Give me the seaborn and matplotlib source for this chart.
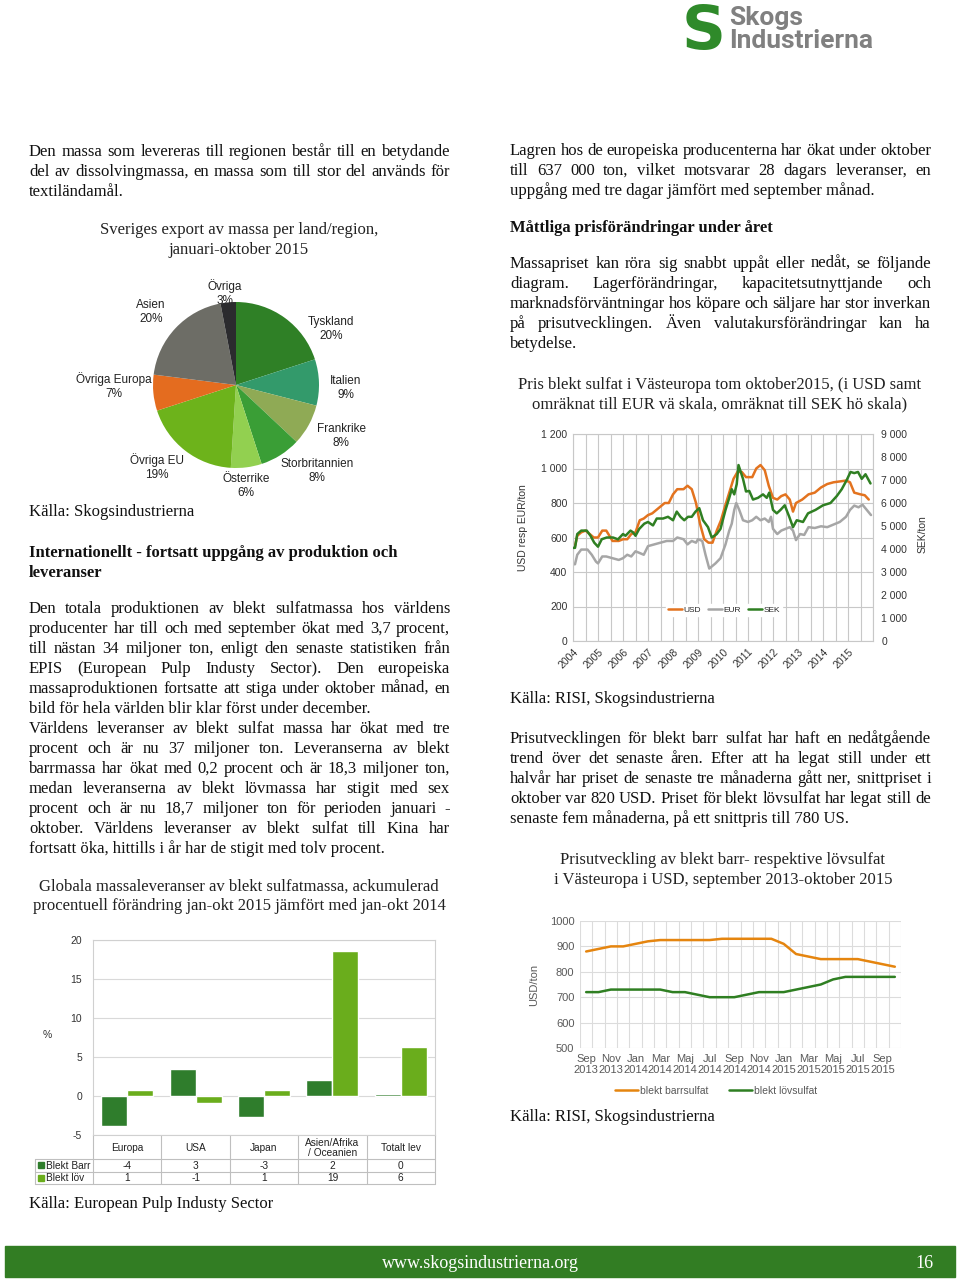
import numpy as np
import pandas as pd
import matplotlib
matplotlib.use('Agg')
import matplotlib.pyplot as plt
import seaborn as sns
from matplotlib.patches import Rectangle
from matplotlib.lines import Line2D
from matplotlib.ticker import MultipleLocator, FuncFormatter

# ---------------- data ----------------
pie_labels = ['Tyskland', 'Italien', 'Frankrike', 'Storbritannien', 'Österrike',
              'Övriga EU', 'Övriga Europa', 'Asien', 'Övriga']
pie_values = [20, 9, 8, 8, 6, 19, 7, 20, 3]

usd_year = [2004.00, 2004.08, 2004.17, 2004.33, 2004.50, 2004.67, 2004.83, 2005.00, 2005.17, 2005.33,
            2005.50, 2005.58, 2005.83, 2006.00, 2006.17, 2006.33, 2006.50, 2006.67, 2006.83, 2007.00,
            2007.17, 2007.42, 2007.67, 2007.83, 2008.00, 2008.17, 2008.42, 2008.58, 2008.75, 2008.92,
            2009.08, 2009.25, 2009.42, 2009.58, 2009.75, 2009.92, 2010.08, 2010.25, 2010.42, 2010.58,
            2010.75, 2010.92, 2011.17, 2011.33, 2011.50, 2011.67, 2011.83, 2012.00, 2012.17, 2012.33,
            2012.50, 2012.67, 2012.80, 2012.92, 2013.17, 2013.42, 2013.67, 2013.92, 2014.17, 2014.42,
            2014.67, 2014.92, 2015.08, 2015.25, 2015.50, 2015.67, 2015.83]
usd_val = [560, 550, 610, 630, 640, 620, 600, 600, 640, 640,
           600, 580, 580, 590, 590, 620, 630, 700, 710, 730,
           740, 770, 800, 800, 850, 880, 880, 900, 880, 800,
           680, 590, 570, 570, 640, 700, 780, 860, 940, 980,
           980, 950, 950, 1000, 1020, 990, 900, 830, 820, 840,
           850, 820, 750, 800, 820, 850, 860, 890, 910, 920,
           925, 930, 920, 860, 850, 845, 820]

eur_year = [2004.00, 2004.08, 2004.17, 2004.33, 2004.58, 2004.75, 2004.92, 2005.00, 2005.17, 2005.33,
            2005.58, 2005.83, 2006.00, 2006.17, 2006.33, 2006.50, 2006.67, 2006.83, 2007.00, 2007.25,
            2007.50, 2007.75, 2008.00, 2008.17, 2008.42, 2008.58, 2008.75, 2008.92, 2009.00, 2009.17,
            2009.30, 2009.45, 2009.70, 2009.90, 2010.10, 2010.25, 2010.35, 2010.45, 2010.53, 2010.65,
            2010.80, 2011.00, 2011.17, 2011.33, 2011.50, 2011.67, 2011.83, 2011.92, 2012.00, 2012.17,
            2012.33, 2012.50, 2012.67, 2012.80, 2012.92, 2013.08, 2013.25, 2013.42, 2013.67, 2013.92,
            2014.17, 2014.42, 2014.67, 2014.92, 2015.08, 2015.25, 2015.42, 2015.58, 2015.75, 2015.92]
eur_val = [445, 445, 500, 530, 530, 500, 460, 450, 490, 490,
           480, 470, 480, 500, 490, 520, 510, 500, 550, 560,
           570, 580, 580, 600, 590, 560, 580, 570, 590, 580,
           500, 420, 450, 480, 560, 640, 680, 760, 800, 760,
           700, 690, 700, 720, 700, 710, 690, 720, 650, 620,
           640, 650, 660, 640, 585, 620, 615, 660, 655, 665,
           660, 675, 690, 720, 760, 785, 775, 790, 760, 730]

sek_year = [2004.00, 2004.08, 2004.17, 2004.33, 2004.55, 2004.70, 2004.85, 2005.00, 2005.15, 2005.35,
            2005.60, 2005.80, 2006.00, 2006.10, 2006.30, 2006.40, 2006.50, 2006.65, 2006.85, 2007.00,
            2007.20, 2007.35, 2007.60, 2007.80, 2008.00, 2008.15, 2008.30, 2008.45, 2008.60, 2008.75,
            2008.90, 2009.05, 2009.20, 2009.40, 2009.55, 2009.75, 2009.90, 2010.10, 2010.25, 2010.35,
            2010.45, 2010.55, 2010.62, 2010.80, 2010.92, 2011.05, 2011.20, 2011.40, 2011.60, 2011.75,
            2011.85, 2012.00, 2012.15, 2012.30, 2012.47, 2012.65, 2012.80, 2012.95, 2013.20, 2013.40,
            2013.70, 2014.00, 2014.30, 2014.55, 2014.75, 2014.95, 2015.10, 2015.25, 2015.40, 2015.55,
            2015.70, 2015.90]
sek_val = [4050, 4050, 4650, 4800, 4800, 4575, 4275, 4100, 4425, 4500,
           4500, 4420, 4650, 4575, 4800, 4725, 4575, 4875, 5100, 5175,
           5025, 5325, 5325, 5400, 5250, 5625, 5400, 5250, 5400, 5400,
           5625, 5775, 5250, 4950, 4500, 4650, 4875, 5700, 6225, 6600,
           6375, 6825, 7650, 7050, 6500, 6525, 6150, 6225, 6375, 6225,
           6450, 5700, 5550, 5700, 5900, 5400, 4950, 5250, 5175, 5550,
           5700, 5900, 6000, 6300, 6600, 7000, 7350, 7300, 7350, 7050,
           7250, 6850]

bar_regions = ['Europa', 'USA', 'Japan', 'Asien/Afrika\n/ Oceanien', 'Totalt lev']
bar_series = ['Blekt Barr', 'Blekt löv']
barr_change = [-3.9, 3.4, -2.7, 2.0, 0.2]
lov_change = [0.8, -0.9, 0.8, 18.6, 6.3]

months = ['Sep\n2013', 'Okt\n2013', 'Nov\n2013', 'Dec\n2013', 'Jan\n2014', 'Feb\n2014', 'Mar\n2014',
          'Apr\n2014', 'Maj\n2014', 'Jun\n2014', 'Jul\n2014', 'Aug\n2014', 'Sep\n2014', 'Okt\n2014',
          'Nov\n2014', 'Dec\n2014', 'Jan\n2015', 'Feb\n2015', 'Mar\n2015', 'Apr\n2015', 'Maj\n2015',
          'Jun\n2015', 'Jul\n2015', 'Aug\n2015', 'Sep\n2015', 'Okt\n2015']
barr_price = [880, 890, 900, 900, 910, 920, 925, 925, 925, 925, 925, 930, 930, 930,
              930, 930, 910, 870, 860, 850, 850, 850, 850, 840, 830, 820]
lov_price = [720, 720, 730, 730, 730, 730, 730, 720, 720, 710, 700, 700, 700, 710,
             720, 720, 720, 730, 740, 750, 770, 780, 780, 780, 780, 780]

# ---------------- style ----------------
W, H = 960, 1282
sns.set_theme(style='white')
plt.rcParams['font.family'] = ['Liberation Sans', 'DejaVu Sans']
plt.rcParams['axes.unicode_minus'] = False
SERIF = ['Liberation Serif', 'DejaVu Serif']
SANS = ['Liberation Sans', 'DejaVu Sans']
BODY = 12
TXT = '#111111'
GRID = '#c8c8c8'

fig = plt.figure(figsize=(9.6, 12.82), dpi=100)
fig.patch.set_facecolor('white')
page = fig.add_axes([0, 0, 1, 1], zorder=0)
page.set_xlim(0, W)
page.set_ylim(H, 0)
page.axis('off')
renderer = fig.canvas.get_renderer()


def rect(x0, y0, x1, y1):
    return [x0 / W, 1 - y1 / H, (x1 - x0) / W, (y1 - y0) / H]


def width_of(s, **kw):
    t = page.text(0, 0, s, **kw)
    w = t.get_window_extent(renderer).width
    t.remove()
    return w


def para(lines, x0, x1, y0, step=20.0, size=BODY, weight='normal'):
    kw = dict(fontsize=size, family=SERIF, weight=weight, va='baseline', ha='left', color=TXT)
    for i, (txt, just) in enumerate(lines):
        y = y0 + i * step
        if not just:
            page.text(x0, y, txt, **kw)
            continue
        words = txt.split()
        ws = [width_of(w, **kw) for w in words]
        gap = (x1 - x0 - sum(ws)) / (len(words) - 1)
        x = x0
        for w, wd in zip(words, ws):
            page.text(x, y, w, **kw)
            x += wd + gap


def centered(lines, xc, y0, step=19.5, size=BODY):
    for i, t in enumerate(lines):
        page.text(xc, y0 + i * step, t, fontsize=size, family=SERIF, ha='center',
                  va='baseline', color='#222222')


LX0, LX1 = 29, 450
RX0, RX1 = 510, 931

# ---------------- logo ----------------
page.text(704, 49, 'S', fontsize=44, weight='bold', color='#2f8a2a', ha='center', va='baseline',
          family=['DejaVu Sans'])
page.text(729, 25, 'Skogs', fontsize=19, weight='bold', color='#808080', ha='left', va='baseline',
          family=['Roboto', 'DejaVu Sans'])
page.text(729, 48, 'Industrierna', fontsize=19, weight='bold', color='#808080', ha='left',
          va='baseline', family=['Roboto', 'DejaVu Sans'])

# ---------------- text blocks ----------------
para([("Den massa som levereras till regionen består till en betydande", True),
      ("del av dissolvingmassa, en massa som till stor del används för", True),
      ("textiländamål.", False)], LX0, LX1, 156)

para([("Lagren hos de europeiska producenterna har ökat under oktober", True),
      ("till 637 000 ton, vilket motsvarar 28 dagars leveranser, en", True),
      ("uppgång med tre dagar jämfört med september månad.", False)], RX0, RX1, 155)

para([("Måttliga prisförändringar under året", False)], RX0, RX1, 232, weight='bold')

para([("Massapriset kan röra sig snabbt uppåt eller nedåt, se följande", True),
      ("diagram. Lagerförändringar, kapacitetsutnyttjande och", True),
      ("marknadsförväntningar hos köpare och säljare har stor inverkan", True),
      ("på prisutvecklingen. Även valutakursförändringar kan ha", True),
      ("betydelse.", False)], RX0, RX1, 268)

centered(["Sveriges export av massa per land/region,", "januari-oktober 2015"], 239, 234)
para([("Källa: Skogsindustrierna", False)], LX0, LX1, 516)

para([("Internationellt - fortsatt uppgång av produktion och", False),
      ("leveranser", False)], LX0, LX1, 557, weight='bold')

para([("Den totala produktionen av blekt sulfatmassa hos världens", True),
      ("producenter har till och med september ökat med 3,7 procent,", True),
      ("till nästan 34 miljoner ton, enligt den senaste statistiken från", True),
      ("EPIS (European Pulp Industy Sector). Den europeiska", True),
      ("massaproduktionen fortsatte att stiga under oktober månad, en", True),
      ("bild för hela världen blir klar först under december.", False),
      ("Världens leveranser av blekt sulfat massa har ökat med tre", True),
      ("procent och är nu 37 miljoner ton. Leveranserna av blekt", True),
      ("barrmassa har ökat med 0,2 procent och är 18,3 miljoner ton,", True),
      ("medan leveranserna av blekt lövmassa har stigit med sex", True),
      ("procent och är nu 18,7 miljoner ton för perioden januari -", True),
      ("oktober.  Världens leveranser av blekt sulfat till Kina har", True),
      ("fortsatt öka, hittills i år har de stigit med tolv procent.", False)], LX0, LX1, 613)

centered(["Globala massaleveranser av blekt sulfatmassa, ackumulerad",
          "procentuell förändring jan-okt 2015 jämfört med jan-okt 2014"], 239, 891)
para([("Källa: European Pulp Industy Sector", False)], LX0, LX1, 1208)

centered(["Pris blekt sulfat i Västeuropa tom oktober2015, (i USD samt",
          "omräknat till EUR vä skala, omräknat till SEK hö skala)"], 720, 389)
para([("Källa: RISI, Skogsindustrierna", False)], RX0, RX1, 703)

para([("Prisutvecklingen för blekt barr sulfat har haft en nedåtgående", True),
      ("trend över det senaste åren. Efter att ha legat still under ett", True),
      ("halvår har priset de senaste tre månaderna gått ner, snittpriset i", True),
      ("oktober var 820 USD. Priset för blekt lövsulfat har legat still de", True),
      ("senaste fem månaderna, på ett snittpris till 780 US.", False)], RX0, RX1, 743)

centered(["Prisutveckling av blekt barr- respektive lövsulfat",
          "i Västeuropa i USD, september 2013-oktober 2015"], 723, 864)
para([("Källa: RISI, Skogsindustrierna", False)], RX0, RX1, 1121)

# footer
page.add_patch(Rectangle((5, 1246), 950, 31, color='#327d23', zorder=1))
page.text(480, 1268, 'www.skogsindustrierna.org', fontsize=13, family=SERIF, color='white',
          ha='center', va='baseline', zorder=2)
page.text(934, 1268, '16', fontsize=13, family=SERIF, color='white', ha='right', va='baseline',
          zorder=2)

# ---------------- pie ----------------
pie_colors = ['#2f8026', '#339a6b', '#8faa55', '#3a9e36', '#92d050',
              '#6db31b', '#e46c1f', '#6d6d66', '#2b2b2e']
PCX, PCY, PR = 236, 385, 83
axp = fig.add_axes(rect(PCX - PR, PCY - PR, PCX + PR, PCY + PR), zorder=2)
axp.pie(pie_values, colors=pie_colors, startangle=90, counterclock=False,
        wedgeprops=dict(linewidth=0))
axp.set_xlim(-1, 1)
axp.set_ylim(-1, 1)
axp.set_aspect('equal')
axp.axis('off')
pie_label_xy = [(331, 329), (346, 388), (341, 436), (317, 471), (246, 486),
                (157, 467), (114, 386), (151, 312), (225, 293)]
for (lx, ly), name, v in zip(pie_label_xy, pie_labels, pie_values):
    page.text(lx, ly, f"{name}\n{v}%", fontsize=8.5, family=SANS, ha='center', va='center',
              color='#222222', linespacing=1.15, zorder=5)

# ---------------- price chart 2004-2015 ----------------
C_USD, C_EUR, C_SEK = '#e3731f', '#a6a6a6', '#2f7f22'
fmt = FuncFormatter(lambda v, p: f"{v:,.0f}".replace(',', ' '))
ax1 = fig.add_axes(rect(573, 434, 873, 641), zorder=2)
sns.lineplot(x=usd_year, y=usd_val, ax=ax1, color=C_USD, linewidth=1.8)
sns.lineplot(x=eur_year, y=eur_val, ax=ax1, color=C_EUR, linewidth=1.8)
ax1.set_xlim(2004, 2016)
ax1.set_ylim(0, 1200)
ax1.set_yticks(np.arange(0, 1201, 200))
ax1.yaxis.set_major_formatter(fmt)
ax1.set_xticks(np.arange(2004, 2016))
ax1.set_xticklabels([str(y) for y in range(2004, 2016)], rotation=45, ha='right',
                    rotation_mode='anchor')
ax1.xaxis.set_minor_locator(MultipleLocator(0.5))
ax1.grid(True, which='both', axis='x', color=GRID, lw=0.8)
ax1.grid(True, which='major', axis='y', color=GRID, lw=0.8)
ax1.tick_params(axis='both', which='both', length=0, labelsize=7.5, colors='#333333', pad=4)
ax1.set_xlabel('')
ax1.set_ylabel('')
for s in ax1.spines.values():
    s.set_color(GRID)
    s.set_linewidth(0.8)
ax2 = ax1.twinx()
sns.lineplot(x=sek_year, y=sek_val, ax=ax2, color=C_SEK, linewidth=1.8)
ax2.set_ylim(0, 9000)
ax2.set_yticks(np.arange(0, 9001, 1000))
ax2.yaxis.set_major_formatter(fmt)
ax2.tick_params(axis='y', length=0, labelsize=7.5, colors='#333333', pad=6)
ax2.set_ylabel('')
ax2.grid(False)
for s in ax2.spines.values():
    s.set_visible(False)
handles = [Line2D([], [], color=c, lw=1.8) for c in (C_USD, C_EUR, C_SEK)]
leg = ax2.legend(handles, ['USD', 'EUR', 'SEK'], loc='center',
                 bbox_to_anchor=((724 - 573) / 300, 1 - (610 - 434) / 207), ncol=3, fontsize=6,
                 frameon=True, facecolor='white', edgecolor='white', framealpha=1,
                 handlelength=1.6, handletextpad=0.2, columnspacing=0.9, borderpad=0.25)
page.text(523, 528, 'USD resp EUR/ton', fontsize=7.5, rotation=90, ha='center', va='center',
          family=SANS, color='#333333')
page.text(923, 534, 'SEK/ton', fontsize=7.5, rotation=90, ha='center', va='center',
          family=SANS, color='#333333')

# ---------------- bar chart ----------------
C_B, C_L = '#2f7d2c', '#6aad1c'
bar_df = pd.DataFrame({'region': bar_regions * 2,
                       'serie': [bar_series[0]] * len(bar_regions) + [bar_series[1]] * len(bar_regions),
                       'value': barr_change + lov_change})
axb = fig.add_axes(rect(93, 940, 435, 1135), zorder=2)
sns.barplot(data=bar_df, x='region', y='value', hue='serie', palette=[C_B, C_L],
            saturation=1, width=0.76, ax=axb, legend=False)
axb.set_xlim(-0.5, len(bar_regions) - 0.5)
axb.set_ylim(-5, 20)
axb.set_yticks(np.arange(-5, 21, 5))
axb.set_xticks([])
axb.set_xlabel('')
axb.set_ylabel('')
axb.grid(True, axis='y', color='#d9d9d9', lw=0.8)
axb.set_axisbelow(True)
axb.tick_params(axis='y', length=0, labelsize=7.5, colors='#333333', pad=8)
for s in axb.spines.values():
    s.set_color('#d0d0d0')
    s.set_linewidth(0.8)
page.text(47, 1035, '%', fontsize=7.5, family=SANS, ha='center', va='center', color='#333333')

# table under bar chart
edges = [axb.transData.transform((i - 0.5, 0))[0] for i in range(len(bar_regions) + 1)]
T0, T1, T2, T3 = 1135, 1159, 1171.5, 1184
LBL0 = 35
TL = '#bfbfbf'
for xe in edges:
    page.plot([xe, xe], [T0, T3], color=TL, lw=0.8)
page.plot([LBL0, LBL0], [T1, T3], color=TL, lw=0.8)
for yy in (T1, T2, T3):
    page.plot([LBL0, edges[-1]], [yy, yy], color=TL, lw=0.8)
for i, reg in enumerate(bar_regions):
    xc = (edges[i] + edges[i + 1]) / 2
    page.text(xc, (T0 + T1) / 2 + 1, reg, fontsize=7.3, family=SANS, ha='center', va='center',
              color='#222222', linespacing=1.05)
    page.text(xc, (T1 + T2) / 2 + 0.5, f"{barr_change[i]:.0f}", fontsize=7.3, family=SANS,
              ha='center', va='center', color='#222222')
    page.text(xc, (T2 + T3) / 2 + 0.5, f"{lov_change[i]:.0f}", fontsize=7.3, family=SANS,
              ha='center', va='center', color='#222222')
for (yy0, yy1), name, c in zip([(T1, T2), (T2, T3)], bar_series, [C_B, C_L]):
    page.add_patch(Rectangle((LBL0 + 3, (yy0 + yy1) / 2 - 3), 6, 6, color=c))
    page.text(LBL0 + 11, (yy0 + yy1) / 2 + 0.5, name, fontsize=7.3, family=SANS, ha='left',
              va='center', color='#222222', clip_on=False)

# ---------------- price chart 2013-2015 ----------------
C_BARR, C_LOV = '#e5850f', '#2f7f22'
ax3 = fig.add_axes(rect(580, 921, 901, 1048), zorder=2)
idx = np.arange(len(months))
sns.lineplot(x=idx, y=barr_price, ax=ax3, color=C_BARR, linewidth=1.8)
sns.lineplot(x=idx, y=lov_price, ax=ax3, color=C_LOV, linewidth=1.8)
ax3.set_xlim(-0.5, len(months) - 0.5)
ax3.set_ylim(500, 1000)
ax3.set_yticks(np.arange(500, 1001, 100))
ax3.set_xticks(idx[::2])
ax3.set_xticklabels(months[::2])
ax3.set_xticks(np.arange(-0.5, len(months)), minor=True)
ax3.grid(True, which='minor', axis='x', color='#dcdcdc', lw=0.8)
ax3.grid(True, which='major', axis='y', color='#dcdcdc', lw=0.8)
ax3.grid(False, which='major', axis='x')
ax3.tick_params(axis='both', which='both', length=0, labelsize=8, colors='#595959', pad=4)
ax3.set_xlabel('')
ax3.set_ylabel('USD/ton', fontsize=8, color='#595959', labelpad=8)
for s in ax3.spines.values():
    s.set_visible(False)
h2 = [Line2D([], [], color=c, lw=1.8) for c in (C_BARR, C_LOV)]
ax3.legend(h2, ['blekt barrsulfat', 'blekt lövsulfat'], loc='center',
           bbox_to_anchor=((716 - 580) / 321, 1 - (1091 - 921) / 127), ncol=2, fontsize=7.5,
           frameon=False, handlelength=2.2, handletextpad=0.2, columnspacing=2.0,
           labelcolor='#595959')

fig.savefig('out.png', dpi=100, facecolor='white')
